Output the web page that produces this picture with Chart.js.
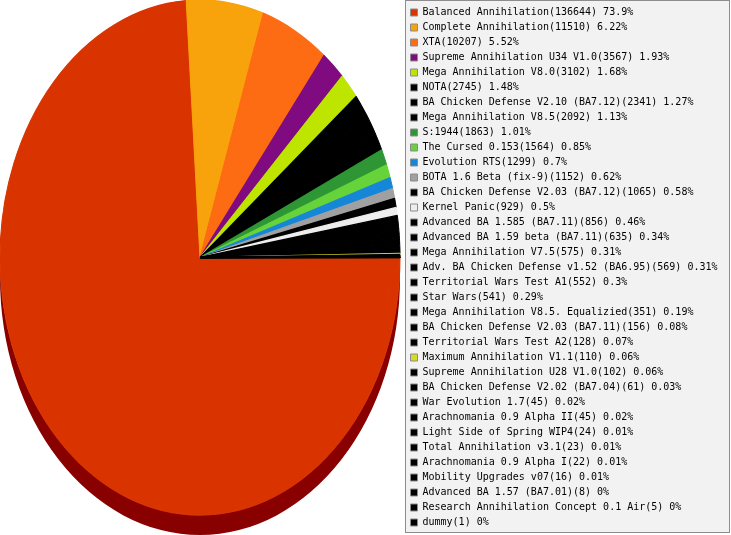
<!DOCTYPE html>
<html>
<head>
<meta charset="utf-8">
<title>Games played</title>
<script src="https://cdn.jsdelivr.net/npm/chart.js@4/dist/chart.umd.min.js"></script>
<style>
  html, body { margin: 0; padding: 0; background: #fff; }
  canvas { display: block; }
</style>
</head>
<body>
<canvas id="gamesChart" width="731" height="535"></canvas>
<script>
// Games and number of games played
const games = [
  'Balanced Annihilation', 'Complete Annihilation', 'XTA', 'Supreme Annihilation U34 V1.0',
  'Mega Annihilation V8.0', 'NOTA', 'BA Chicken Defense V2.10 (BA7.12)', 'Mega Annihilation V8.5',
  'S:1944', 'The Cursed 0.153', 'Evolution RTS', 'BOTA 1.6 Beta (fix-9)',
  'BA Chicken Defense V2.03 (BA7.12)', 'Kernel Panic', 'Advanced BA 1.585 (BA7.11)',
  'Advanced BA 1.59 beta (BA7.11)', 'Mega Annihilation V7.5', 'Adv. BA Chicken Defense v1.52 (BA6.95)',
  'Territorial Wars Test A1', 'Star Wars', 'Mega Annihilation V8.5. Equalizied',
  'BA Chicken Defense V2.03 (BA7.11)', 'Territorial Wars Test A2', 'Maximum Annihilation V1.1',
  'Supreme Annihilation U28 V1.0', 'BA Chicken Defense V2.02 (BA7.04)', 'War Evolution 1.7',
  'Arachnomania 0.9 Alpha II', 'Light Side of Spring WIP4', 'Total Annihilation v3.1',
  'Arachnomania 0.9 Alpha I', 'Mobility Upgrades v07', 'Advanced BA 1.57 (BA7.01)',
  'Research Annihilation Concept 0.1 Air', 'dummy'
];
const plays = [
  136644, 11510, 10207, 3567, 3102, 2745, 2341, 2092, 1863, 1564, 1299, 1152,
  1065, 929, 856, 635, 575, 569, 552, 541, 351, 156, 128, 110,
  102, 61, 45, 45, 24, 23, 22, 16, 8, 5, 1
];
const sliceColors = [
  '#d93400', '#f8a20c', '#fd6b12', '#800a80', '#bee500', '#000000', '#000000', '#000000',
  '#2e9634', '#66d33a', '#1686d8', '#a0a0a0', '#000000', '#eeeeee', '#000000', '#000000',
  '#000000', '#000000', '#000000', '#000000', '#000000', '#000000', '#000000', '#d8d828',
  '#000000', '#000000', '#000000', '#000000', '#000000', '#000000', '#000000', '#000000',
  '#000000', '#000000', '#000000'
];

const total = plays.reduce((a, b) => a + b, 0);
const labels = games.map((g, i) => g + '(' + plays[i] + ') ' + Number((plays[i] / total * 100).toFixed(2)) + '%');

const depth = 20;
const sideColor = '#880000';

// stretch the round pie into a tilted ellipse with a dark side underneath
const pie3d = {
  id: 'pie3d',
  beforeDatasetsDraw(chart) {
    const arc = chart.getDatasetMeta(0).data[0];
    const a = chart.chartArea;
    const ctx = chart.ctx;
    const r = arc.outerRadius;
    const ry = (a.height - depth) / 2;
    const fx = a.left + r;
    const fy = a.top + ry;
    ctx.save();
    ctx.fillStyle = sideColor;
    ctx.beginPath();
    ctx.ellipse(fx, fy, r, ry, 0, 0, Math.PI);
    ctx.ellipse(fx, fy + depth, r, ry, 0, Math.PI, 0, true);
    ctx.closePath();
    ctx.fill();
    ctx.translate(fx, fy);
    ctx.scale(1, ry / r);
    ctx.translate(-arc.x, -arc.y);
  },
  afterDatasetsDraw(chart) {
    chart.ctx.restore();
  }
};

// grey box behind the legend
const legendBox = {
  id: 'legendBox',
  beforeDraw(chart) {
    const l = chart.legend;
    const ctx = chart.ctx;
    const x = Math.floor(l.left) + 0.5;
    ctx.save();
    ctx.fillStyle = '#f2f2f2';
    ctx.strokeStyle = '#8c8c8c';
    ctx.lineWidth = 1;
    ctx.fillRect(x, 0.5, l.right - x - 1.5, l.bottom - 3);
    ctx.strokeRect(x, 0.5, l.right - x - 1.5, l.bottom - 3);
    ctx.restore();
  }
};

// fixed legend width so it sits right of the pie
const legendWidth = {
  id: 'legendWidth',
  beforeInit(chart) {
    const fit = chart.legend.fit;
    chart.legend.fit = function () {
      fit.call(this);
      this.width = 325.5;
    };
  }
};

const ctx = document.getElementById('gamesChart').getContext('2d');
new Chart(ctx, {
  type: 'pie',
  data: {
    labels: labels,
    datasets: [{
      data: plays,
      backgroundColor: sliceColors,
      borderColor: sliceColors,
      borderWidth: 1,
      clip: false
    }]
  },
  options: {
    responsive: false,
    animation: false,
    events: [],
    rotation: 90,
    radius: 200,
    layout: { padding: 0 },
    plugins: {
      tooltip: { enabled: false },
      legend: {
        position: 'right',
        align: 'center',
        labels: {
          boxWidth: 7,
          boxHeight: 7,
          padding: 5,
          color: '#000',
          font: { family: 'DejaVu Sans Mono', size: 10 },
          generateLabels: () => labels.map((text, i) => ({
            text: text,
            fillStyle: sliceColors[i],
            strokeStyle: '#8c8c8c',
            lineWidth: 1,
            hidden: false,
            index: i
          }))
        }
      }
    }
  },
  plugins: [pie3d, legendBox, legendWidth]
});
</script>
</body>
</html>
